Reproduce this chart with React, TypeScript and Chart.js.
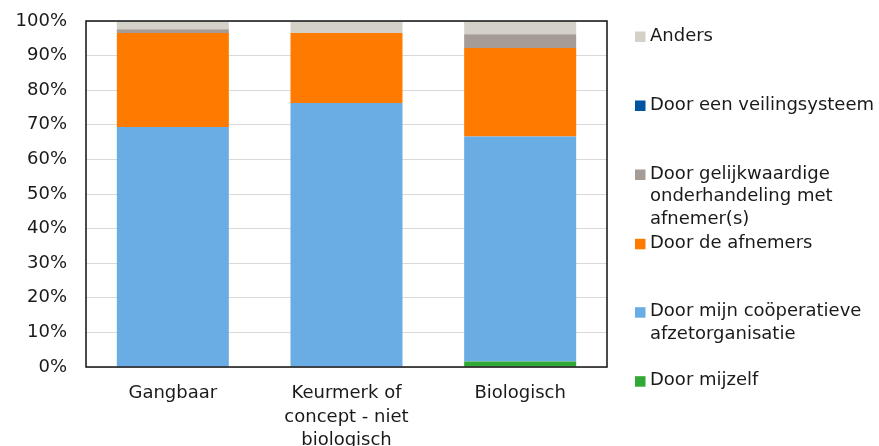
import React, { useEffect, useRef } from "react";
import { Chart, registerables } from "chart.js";
Chart.register(...registerables);

const categories = [["Gangbaar"], ["Keurmerk of", "concept - niet", "biologisch"], ["Biologisch"]];
const mijzelf = [0, 0, 1.6];
const cooperatieve = [69.4, 76.3, 65.0];
const afnemers = [27.1, 20.2, 25.6];
const gelijkwaardig = [1.1, 0, 4.0];
const veiling = [0, 0, 0];
const anders = [2.4, 3.5, 3.8];
const yTicks = [0, 10, 20, 30, 40, 50, 60, 70, 80, 90, 100];

const seriesNames = [
  "Door mijzelf",
  "Door mijn coöperatieve afzetorganisatie",
  "Door de afnemers",
  "Door gelijkwaardige onderhandeling met afnemer(s)",
  "Door een veilingsysteem",
  "Anders",
];
const seriesValues = [mijzelf, cooperatieve, afnemers, gelijkwaardig, veiling, anders];
const seriesColors = ["#31a935", "#6aade4", "#ff7b00", "#a49c95", "#0053a0", "#d3d1c8"];

// legend, top to bottom (wrapped lines)
const legendLines = [
  ["Anders"],
  ["Door een veilingsysteem"],
  ["Door gelijkwaardige", "onderhandeling met", "afnemer(s)"],
  ["Door de afnemers"],
  ["Door mijn coöperatieve", "afzetorganisatie"],
  ["Door mijzelf"],
];
const legendColors = ["#d3d1c8", "#0053a0", "#a49c95", "#ff7b00", "#6aade4", "#31a935"];
const legendY = [36, 105, 174, 243.3, 311.7, 380.7];

const FONT = "'DejaVu Sans', Verdana, sans-serif";
const TEXT = "#1a1a1a";

export default function App() {
  const ref = useRef<HTMLCanvasElement | null>(null);
  useEffect(() => {
    if (!ref.current) return;
    const framePlugin = {
      id: "frame",
      afterDraw(chart: any) {
        const { ctx, chartArea: a } = chart;
        ctx.save();
        ctx.strokeStyle = "#111";
        ctx.lineWidth = 1.5;
        ctx.strokeRect(a.left, a.top, a.right - a.left, a.bottom - a.top);
        ctx.restore();
      },
    };
    const legendPlugin = {
      id: "customLegend",
      afterDraw(chart: any) {
        const ctx = chart.ctx;
        ctx.save();
        ctx.font = `18px ${FONT}`;
        ctx.textBaseline = "middle";
        ctx.textAlign = "left";
        const lh = 22.7;
        legendLines.forEach((lines, i) => {
          const y0 = legendY[i];
          ctx.fillStyle = legendColors[i];
          ctx.fillRect(635, y0 - 4.5, 10.5, 10.5);
          ctx.fillStyle = TEXT;
          lines.forEach((t, j) => ctx.fillText(t, 650, y0 + j * lh));
        });
        ctx.restore();
      },
    };
    const chart = new Chart(ref.current, {
      type: "bar",
      data: {
        labels: categories,
        datasets: seriesNames.map((n, i) => ({
          label: n,
          data: seriesValues[i],
          backgroundColor: seriesColors[i],
          borderWidth: 0,
          categoryPercentage: 1,
          barPercentage: 0.645,
        })),
      },
      options: {
        responsive: false,
        animation: false,
        layout: { padding: { left: 0, right: 272, top: 21, bottom: 0 } },
        plugins: { legend: { display: false }, tooltip: { enabled: false } },
        scales: {
          x: {
            stacked: true,
            grid: { display: false, drawTicks: false },
            border: { display: false },
            ticks: {
              color: TEXT,
              font: { family: FONT, size: 18, lineHeight: 1.3 },
              padding: 15,
              maxRotation: 0,
              autoSkip: false,
            },
            afterFit: (s: any) => {
              s.height = 79;
              s.paddingLeft = 0;
              s.paddingRight = 0;
            },
          },
          y: {
            stacked: true,
            min: 0,
            max: 100,
            afterBuildTicks: (s: any) => {
              s.ticks = yTicks.map((v) => ({ value: v }));
            },
            grid: { color: "#d9d9d9", lineWidth: 1, drawTicks: false },
            border: { display: false },
            ticks: {
              color: TEXT,
              font: { family: FONT, size: 18 },
              padding: 19,
              callback: (v: any) => v + "%",
            },
            afterFit: (s: any) => {
              s.width = 86;
              s.paddingTop = 0;
              s.paddingBottom = 0;
            },
          },
        },
      },
      plugins: [framePlugin, legendPlugin],
    });
    return () => chart.destroy();
  }, []);
  return (
    <div style={{ position: "fixed", left: 0, top: 0, width: 879, height: 446, background: "#fff" }}>
      <canvas ref={ref} width={879} height={446} />
    </div>
  );
}
